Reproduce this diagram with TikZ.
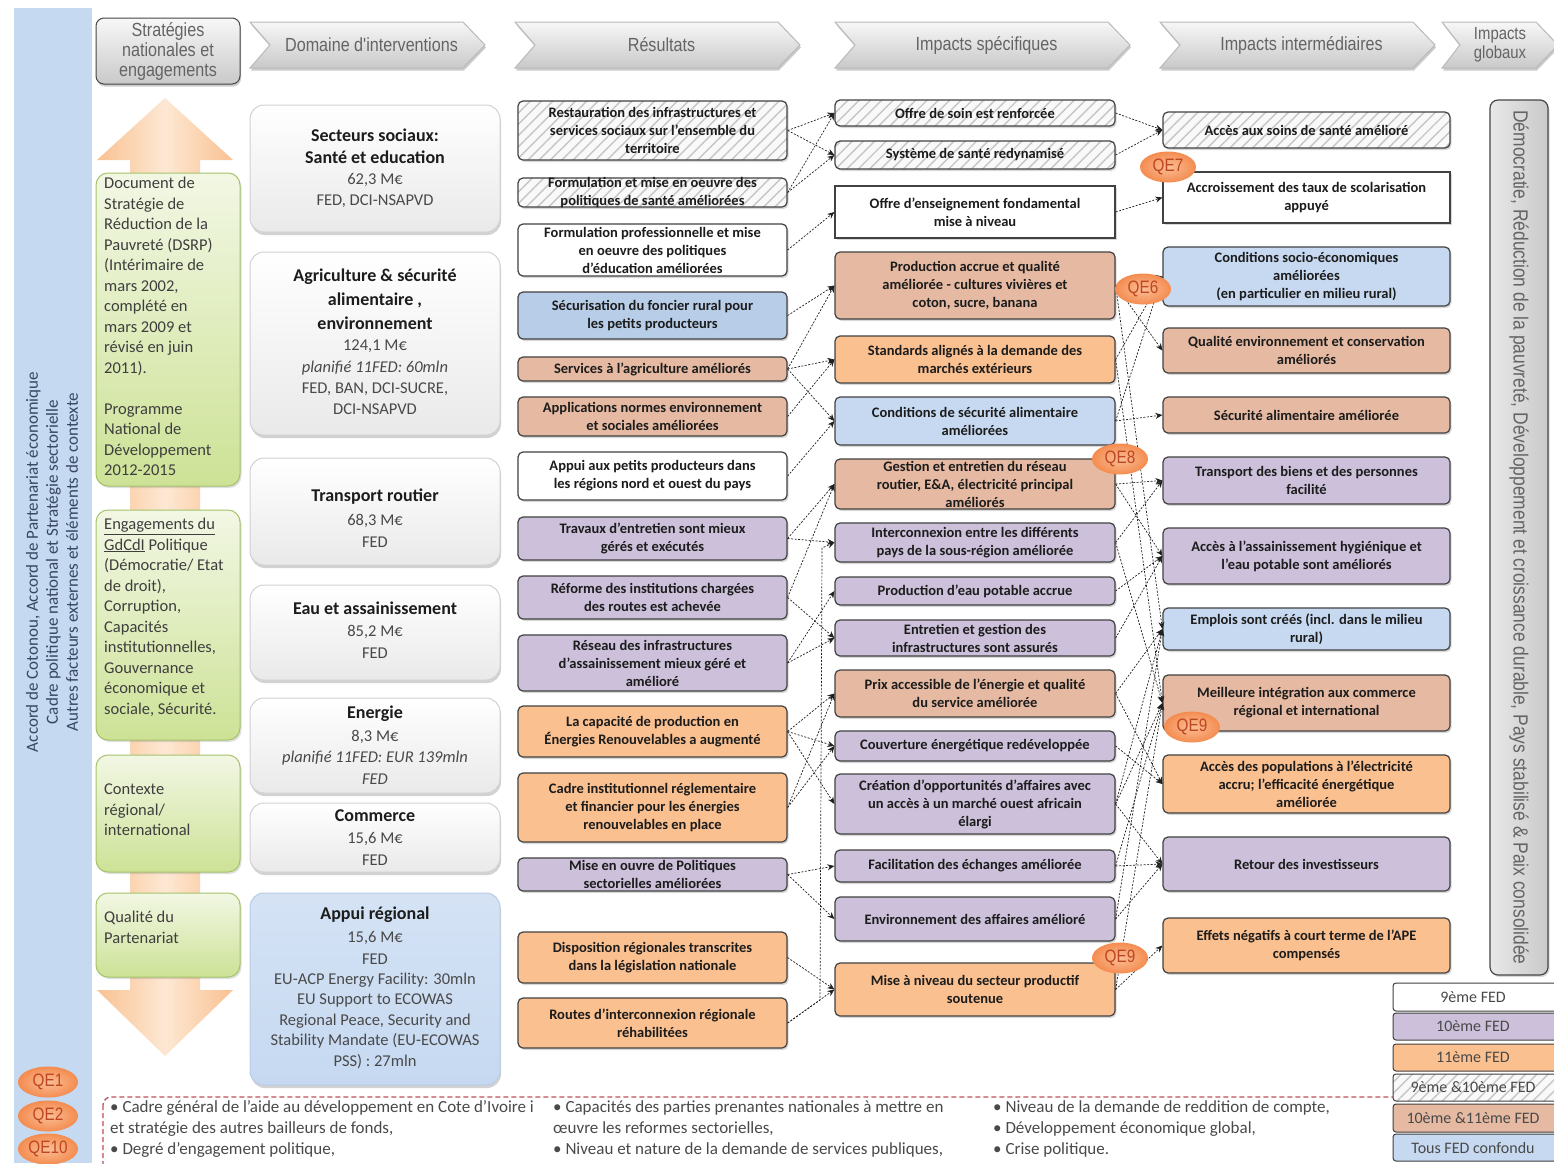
\documentclass[tikz,border=0pt]{standalone}
\usepackage{fontspec}
\setmainfont{Carlito}
\newfontfamily\hdr[FakeStretch=0.85]{Liberation Sans}
\usetikzlibrary{shadows,patterns.meta,arrows.meta,shapes.geometric}
\definecolor{cTen}{RGB}{204,192,218}
\definecolor{cEleven}{RGB}{250,192,144}
\definecolor{cTenEl}{RGB}{230,186,162}
\definecolor{cAll}{RGB}{198,217,241}
\definecolor{cAllD}{RGB}{184,205,232}
\definecolor{stripblue}{RGB}{197,217,241}
\definecolor{striptxt}{RGB}{55,70,100}
\definecolor{grnlt}{RGB}{242,247,228}
\definecolor{grndk}{RGB}{205,226,150}
\definecolor{grnbd}{RGB}{165,195,105}
\definecolor{oralt}{RGB}{253,232,212}
\definecolor{oradk}{RGB}{249,193,145}
\definecolor{txt}{RGB}{28,28,28}
\definecolor{boxbd}{RGB}{65,65,65}
\definecolor{qefill}{RGB}{244,140,80}
\definecolor{qelight}{RGB}{250,190,150}
\definecolor{qetext}{RGB}{190,70,35}
\definecolor{hdrtxt}{RGB}{100,100,100}
\definecolor{dashred}{RGB}{192,80,90}
\newcommand{\bx}[7]{%
  \pgfmathsetmacro{\bxcx}{(#3+#5)/2}%
  \pgfmathsetmacro{\bxcy}{(#4+#6)/2}%
  \pgfmathsetmacro{\bxw}{#5-#3}%
  \pgfmathsetmacro{\bxh}{#6-#4}%
  \node[#2, minimum width=\bxw pt, minimum height=\bxh pt] (#1) at (\bxcx,\bxcy) {};%
  \node[bt] (#1t) at (#1.center) {#7};}
\newcommand{\chev}[4]{%
  \draw[chevst] (#2,22) -- ({#3-22},22) -- (#3,45) -- ({#3-22},68) -- (#2,68) -- ({#2+20},45) -- cycle;
  \node[hdrt] (#1) at ({(#2+#3)/2+4},45) {#4};}
\begin{document}
\begin{tikzpicture}[x=1pt,y=-1pt,
  box/.style={draw=boxbd, line width=1.2pt, rounded corners=5pt, inner sep=0pt,
    drop shadow={opacity=0.3,shadow xshift=1.5pt,shadow yshift=-2pt}},
  sqbox/.style={box, rounded corners=0pt},
  hatch/.style={preaction={fill=gray!5}, pattern={Lines[angle=45,distance=8pt,line width=1.4pt]}, pattern color=gray!45},
  bt/.style={font=\bfseries\fontsize{14.5}{18}\selectfont, align=center, text=txt, inner sep=0pt},
  dom/.style={draw=gray!35, line width=1pt, rounded corners=14pt, top color=white, bottom color=gray!17, inner sep=0pt,
    drop shadow={opacity=0.35,shadow xshift=1pt,shadow yshift=-3pt}},
  dtb/.style={font=\bfseries\fontsize{18}{22}\selectfont, text=txt, inner sep=0pt},
  dtr/.style={font=\fontsize{16.5}{20}\selectfont, text=txt!80, inner sep=0pt},
  dti/.style={font=\itshape\fontsize{16.5}{20}\selectfont, text=txt!80, inner sep=0pt},
  grn/.style={draw=grnbd, line width=1pt, rounded corners=12pt, top color=grnlt, bottom color=grndk, inner sep=0pt,
    drop shadow={opacity=0.25,shadow xshift=1.5pt,shadow yshift=-2pt}},
  gtxt/.style={anchor=north west, align=left, font=\fontsize{16.5}{20.5}\selectfont, text=txt!85, inner sep=0pt},
  qe/.style={ellipse, inner color=qelight, outer color=qefill, minimum width=56pt, minimum height=31pt, inner sep=0pt,
    font=\hdr\fontsize{18}{18}\selectfont, text=qetext},
  lk/.style={draw=gray!25!black, dash pattern=on 2pt off 1.5pt, line width=0.7pt, -{Stealth[length=7pt,width=6pt]}},
  chevst/.style={draw=gray!55, line width=1pt, top color=gray!6, bottom color=gray!42,
    drop shadow={opacity=0.4,shadow xshift=1pt,shadow yshift=-2.5pt}},
  hdrt/.style={font=\hdr\fontsize{19}{20}\selectfont, text=hdrtxt, align=center, inner sep=0pt},
  leg/.style={draw=gray!50!black, line width=1pt, rounded corners=3pt, inner sep=0pt, minimum width=180pt},
  legt/.style={font=\fontsize{16}{16}\selectfont, text=txt!80, inner sep=0pt},
  bot/.style={anchor=north west, align=left, font=\fontsize{17}{21}\selectfont, text=txt!80, inner sep=0pt}
]
\useasboundingbox (0,0) rectangle (1554,1163);
\clip (0,0) rectangle (1554,1163);
\fill[white] (0,0) rectangle (1554,1163);
% left blue strip
\fill[stripblue] (14,8) rectangle (92,1163);
\node[rotate=90, align=center, font=\fontsize{17}{20}\selectfont, text=striptxt, inner sep=0pt] (ctx) at (52,562)
  {Accord de Cotonou, Accord de Partenariat économique\\Cadre politique national et Stratégie sectorielle\\Autres facteurs externes et éléments de contexte};
% header
\node[draw=gray!55!black, line width=1pt, rounded corners=8pt, top color=gray!6, bottom color=gray!42,
  minimum width=144pt, minimum height=66pt, inner sep=0pt,
  drop shadow={opacity=0.4,shadow xshift=1pt,shadow yshift=-2.5pt}] (h0) at (168,51) {};
\node[hdrt, font=\hdr\fontsize{19}{20}\selectfont] (h0t) at (h0.center) {Stratégies\\nationales et\\engagements};
\chev{h1}{250}{485}{Domaine d'interventions}
\chev{h2}{515}{800}{Résultats}
\chev{h3}{835}{1130}{Impacts spécifiques}
\chev{h4}{1160}{1435}{Impacts intermédiaires}
\draw[chevst] (1442,22) -- (1536,22) -- (1558,45) -- (1536,68) -- (1442,68) -- (1460,45) -- cycle;
\node[hdrt, font=\hdr\fontsize{17.5}{19}\selectfont] (h5) at (1500,45) {Impacts\\globaux};
% orange double arrow
\path[left color=oradk, right color=oradk, middle color=oralt] (165,98) -- (233,160) -- (200,160) -- (200,990) -- (233,990)
  -- (165,1056) -- (97,990) -- (130,990) -- (130,160) -- (97,160) -- cycle;
% green boxes
\bx{g1}{grn}{96}{173}{240}{486}{}
\node[gtxt] (g1x) at (104,177) {Document de\\Stratégie de\\Réduction de la\\Pauvreté (DSRP)\\(Intérimaire de\\mars 2002,\\complété en\\mars 2009 et\\révisé en juin\\2011).\\[20.5pt]Programme\\National de\\Développement\\2012-2015};
\bx{g2}{grn}{96}{510}{240}{740}{}
\node[gtxt] (g2x) at (104,518) {\underline{Engagements du}\\\underline{GdCdI} Politique\\(Démocratie/ Etat\\de droit),\\Corruption,\\Capacités\\institutionnelles,\\Gouvernance\\économique et\\sociale, Sécurité.};
\bx{g3}{grn}{96}{755}{240}{872}{}
\node[gtxt] (g3x) at (104,784) {Contexte\\régional/\\international};
\bx{g4}{grn}{96}{893}{240}{977}{}
\node[gtxt] (g4x) at (104,911) {Qualité du\\Partenariat};
% QE left
\node[qe, minimum width=60pt] (qe1) at (48,1082) {QE1};
\node[qe, minimum width=60pt] (qe2) at (48,1116) {QE2};
\node[qe, minimum width=60pt] (qe10) at (48,1149) {QE10};
% domain boxes
\bx{d1}{dom}{250}{105}{500}{232}{}
\node[dtb] (d1a) at (375,135) {Secteurs sociaux:};
\node[dtb] (d1b) at (375,157) {Santé et education};
\node[dtr] (d1c) at (375,180) {62,3 M€};
\node[dtr] (d1d) at (375,201) {FED, DCI-NSAPVD};
\bx{d2}{dom}{250}{252}{500}{435}{}
\node[dtb] (d2a) at (375,277) {Agriculture \& sécurité};
\node[dtb] (d2b) at (375,300) {alimentaire ,};
\node[dtb] (d2c) at (375,323) {environnement};
\node[dtr] (d2d) at (375,346) {124,1 M€};
\node[dti] (d2e) at (375,368) {planifié 11FED: 60mln};
\node[dtr] (d2f) at (375,389) {FED, BAN, DCI-SUCRE,};
\node[dtr] (d2g) at (375,409) {DCI-NSAPVD};
\bx{d3}{dom}{250}{458}{500}{565}{}
\node[dtb] (d3a) at (375,497) {Transport routier};
\node[dtr] (d3b) at (375,521) {68,3 M€};
\node[dtr] (d3c) at (375,542) {FED};
\bx{d4}{dom}{250}{585}{500}{680}{}
\node[dtb] (d4a) at (375,608) {Eau et assainissement};
\node[dtr] (d4b) at (375,632) {85,2 M€};
\node[dtr] (d4c) at (375,653) {FED};
\bx{d5}{dom}{250}{698}{500}{793}{}
\node[dtb] (d5a) at (375,714) {Energie};
\node[dtr] (d5b) at (375,737) {8,3 M€};
\node[dti] (d5c) at (375,758) {planifié 11FED: EUR 139mln};
\node[dti] (d5d) at (375,779) {FED};
\bx{d6}{dom}{250}{803}{500}{872}{}
\node[dtb] (d6a) at (375,816) {Commerce};
\node[dtr] (d6b) at (375,839) {15,6 M€};
\node[dtr] (d6c) at (375,860) {FED};
\bx{d7}{dom, top color=cAll!75!white, bottom color=cAll, draw=cAllD}{250}{893}{500}{1085}{}
\node[dtb] (d7a) at (375,915) {Appui régional};
\node[dtr] (d7b) at (375,938) {15,6 M€};
\node[dtr] (d7c) at (375,959) {FED};
\node[dtr] (d7d) at (375,980) {EU-ACP Energy Facility: 30mln};
\node[dtr] (d7e) at (375,1000) {EU Support to ECOWAS};
\node[dtr] (d7f) at (375,1021) {Regional Peace, Security and};
\node[dtr] (d7g) at (375,1041) {Stability Mandate (EU-ECOWAS};
\node[dtr] (d7h) at (375,1062) {PSS) : 27mln};
% results
\bx{r1}{box,hatch}{518}{101}{787}{160}{Restauration des infrastructures et\\services sociaux sur l'ensemble du\\territoire}
\bx{r2}{box,hatch}{518}{178}{787}{207}{Formulation et mise en oeuvre des\\politiques de santé améliorées}
\bx{r3}{box,fill=white}{518}{224}{787}{276}{Formulation professionnelle et mise\\en oeuvre des politiques\\d'éducation améliorées}
\bx{r4}{box,fill=cAllD}{518}{292}{787}{339}{Sécurisation du foncier rural pour\\les petits producteurs}
\bx{r5}{box,fill=cTenEl}{518}{357}{787}{381}{Services à l'agriculture améliorés}
\bx{r6}{box,fill=cTenEl}{518}{397}{787}{436}{Applications normes environnement\\et sociales améliorées}
\bx{r7}{box,fill=white}{518}{452}{787}{500}{Appui aux petits producteurs dans\\les régions nord et ouest du pays}
\bx{r8}{box,fill=cTen}{518}{517}{787}{560}{Travaux d'entretien sont mieux\\gérés et exécutés}
\bx{r9}{box,fill=cTen}{518}{576}{787}{619}{Réforme des institutions chargées\\des routes est achevée}
\bx{r10}{box,fill=cTen}{518}{635}{787}{691}{Réseau des infrastructures\\d'assainissement mieux géré et\\amélioré}
\bx{r11}{box,fill=cEleven}{518}{706}{787}{757}{La capacité de production en\\Énergies Renouvelables a augmenté}
\bx{r12}{box,fill=cEleven}{518}{773}{787}{842}{Cadre institutionnel réglementaire\\et financier pour les énergies\\renouvelables en place}
\bx{r13}{box,fill=cTen}{518}{858}{787}{891}{Mise en ouvre de Politiques\\sectorielles améliorées}
\bx{r14}{box,fill=cEleven}{518}{932}{787}{983}{Disposition régionales transcrites\\dans la législation nationale}
\bx{r15}{box,fill=cEleven}{518}{998}{787}{1048}{Routes d'interconnexion régionale\\réhabilitées}
% specific impacts
\bx{s1}{box,hatch}{835}{100}{1115}{126}{Offre de soin est renforcée}
\bx{s2}{box,hatch}{835}{141}{1115}{169}{Système de santé redynamisé}
\bx{s3}{sqbox,fill=white}{835}{186}{1115}{238}{Offre d'enseignement fondamental\\mise à niveau}
\bx{s4}{box,fill=cTenEl}{835}{252}{1115}{319}{Production accrue et qualité\\améliorée - cultures vivières et\\coton, sucre, banana}
\bx{s5}{box,fill=cEleven}{835}{336}{1115}{383}{Standards alignés à la demande des\\marchés extérieurs}
\bx{s6}{box,fill=cAll}{835}{397}{1115}{445}{Conditions de sécurité alimentaire\\améliorées}
\bx{s7}{box,fill=cTenEl}{835}{459}{1115}{509}{Gestion et entretien du réseau\\routier, E\&A, électricité principal\\améliorés}
\bx{s8}{box,fill=cTen}{835}{523}{1115}{562}{Interconnexion entre les différents\\pays de la sous-région améliorée}
\bx{s9}{box,fill=cTen}{835}{577}{1115}{605}{Production d'eau potable accrue}
\bx{s10}{box,fill=cTen}{835}{620}{1115}{656}{Entretien et gestion des\\infrastructures sont assurés}
\bx{s11}{box,fill=cTenEl}{835}{670}{1115}{717}{Prix accessible de l'énergie et qualité\\du service améliorée}
\bx{s12}{box,fill=cTen}{835}{731}{1115}{761}{Couverture énergétique redéveloppée}
\bx{s13}{box,fill=cTen}{835}{774}{1115}{834}{Création d'opportunités d'affaires avec\\un accès à un marché ouest africain\\élargi}
\bx{s14}{box,fill=cTen}{835}{850}{1115}{882}{Facilitation des échanges améliorée}
\bx{s15}{box,fill=cTen}{835}{897}{1115}{941}{Environnement des affaires amélioré}
\bx{s16}{box,fill=cEleven}{835}{963}{1115}{1016}{Mise à niveau du secteur productif\\soutenue}
% intermediate impacts
\bx{i1}{box,hatch}{1163}{112}{1450}{148}{Accès aux soins de santé amélioré}
\bx{i2}{sqbox,fill=white}{1163}{172}{1450}{223}{Accroissement des taux de scolarisation\\appuyé}
\bx{i3}{box,fill=cAll}{1163}{247}{1450}{306}{Conditions socio-économiques\\améliorées\\(en particulier en milieu rural)}
\bx{i4}{box,fill=cTenEl}{1163}{328}{1450}{373}{Qualité environnement et conservation\\améliorés}
\bx{i5}{box,fill=cTenEl}{1163}{397}{1450}{433}{Sécurité alimentaire améliorée}
\bx{i6}{box,fill=cTen}{1163}{457}{1450}{504}{Transport des biens et des personnes\\facilité}
\bx{i7}{box,fill=cTen}{1163}{528}{1450}{584}{Accès à l'assainissement hygiénique et\\l'eau potable sont améliorés}
\bx{i8}{box,fill=cAll}{1163}{608}{1450}{650}{Emplois sont créés (incl. dans le milieu\\rural)}
\bx{i9}{box,fill=cTenEl}{1163}{675}{1450}{731}{Meilleure intégration aux commerce\\régional et international}
\bx{i10}{box,fill=cEleven}{1163}{755}{1450}{813}{Accès des populations à l'électricité\\accru; l'efficacité énergétique\\améliorée}
\bx{i11}{box,fill=cTen}{1163}{837}{1450}{891}{Retour des investisseurs}
\bx{i12}{box,fill=cEleven}{1163}{918}{1450}{973}{Effets négatifs à court terme de l'APE\\compensés}
% connectors results -> specific
\foreach \a/\b in {r1/s1, r1/s2, r2/s1, r2/s2, r3/s3, r4/s4, r5/s4, r5/s5, r5/s6, r6/s5, r7/s6, r8/s7, r8/s8,
  r9/s7, r9/s10, r10/s9, r10/s10, r11/s11, r11/s12, r11/s13, r12/s11, r12/s12, r13/s14, r13/s15, r14/s16, r15/s16}
  \draw[lk] (\a.east) -- (\b.west);
\draw[lk] (r15.east) -- (820,1000) -- (822,548) -- (s8.west);
% connectors specific -> intermediate
\foreach \a/\b in {s1/i1, s2/i1, s3/i2, s4/i3, s4/i4, s4/i8, s5/i9, s5/i3, s6/i5, s6/i3, s7/i6, s7/i7, s8/i6, s8/i9,
  s9/i7, s10/i7, s11/i10, s11/i8, s12/i10, s13/i8, s13/i9, s13/i11, s14/i9, s14/i11, s15/i11, s15/i8, s16/i12, s16/i9}
  \draw[lk] (\a.east) -- (\b.west);
% QE markers
\node[qe] (qe7) at (1168,167) {QE7};
\node[qe] (qe6) at (1143,289) {QE6};
\node[qe] (qe8) at (1120,459) {QE8};
\node[qe] (qe9a) at (1192,727) {QE9};
\node[qe] (qe9b) at (1120,958) {QE9};
% global impacts bar
\node[draw=gray!55!black, line width=1.2pt, rounded corners=8pt, left color=gray!18, right color=gray!42,
  minimum width=58pt, minimum height=875pt, inner sep=0pt,
  drop shadow={opacity=0.3,shadow xshift=1.5pt,shadow yshift=-2pt}] (glob) at (1519,537.5) {};
\node[rotate=-90, font=\hdr\fontsize{20.5}{20}\selectfont, text=hdrtxt, inner sep=0pt] (globt) at (glob.center)
  {Démocratie, Réduction de la pauvreté, Développement et croissance durable, Pays stabilisé \& Paix consolidée};
% bottom dashed box
\draw[draw=dashred, dash pattern=on 5pt off 3pt, line width=1.3pt, rounded corners=8pt] (103,1097) rectangle (1620,1200);
\node[bot] (bt1) at (110,1100)
  {• Cadre général de l'aide au développement en Cote d'Ivoire i\\et stratégie des autres bailleurs de fonds,\\• Degré d'engagement politique,};
\node[bot] (bt2) at (553,1100)
  {• Capacités des parties prenantes nationales à mettre en\\œuvre les reformes sectorielles,\\• Niveau et nature de la demande de services publiques,};
\node[bot] (bt3) at (993,1100)
  {• Niveau de la demande de reddition de compte,\\• Développement économique global,\\• Crise politique.};
% legend
\node[leg, fill=white, minimum height=28pt] (l1) at (1483,997) {};
\node[legt] (l1t) at (1473,997) {9ème FED};
\node[leg, fill=cTen, minimum height=27pt] (l2) at (1483,1026.5) {};
\node[legt] (l2t) at (1473,1026.5) {10ème FED};
\node[leg, fill=cEleven, minimum height=27pt] (l3) at (1483,1057.5) {};
\node[legt] (l3t) at (1473,1057.5) {11ème FED};
\node[leg, hatch, minimum height=27pt] (l4) at (1483,1087.5) {};
\node[legt] (l4t) at (1473,1087.5) {9ème \&10ème FED};
\node[leg, fill=cTenEl, minimum height=28pt] (l5) at (1483,1118) {};
\node[legt] (l5t) at (1473,1118) {10ème \&11ème FED};
\node[leg, fill=cAll, minimum height=27pt] (l6) at (1483,1147.5) {};
\node[legt] (l6t) at (1473,1147.5) {Tous FED confondu};
\end{tikzpicture}
\end{document}
